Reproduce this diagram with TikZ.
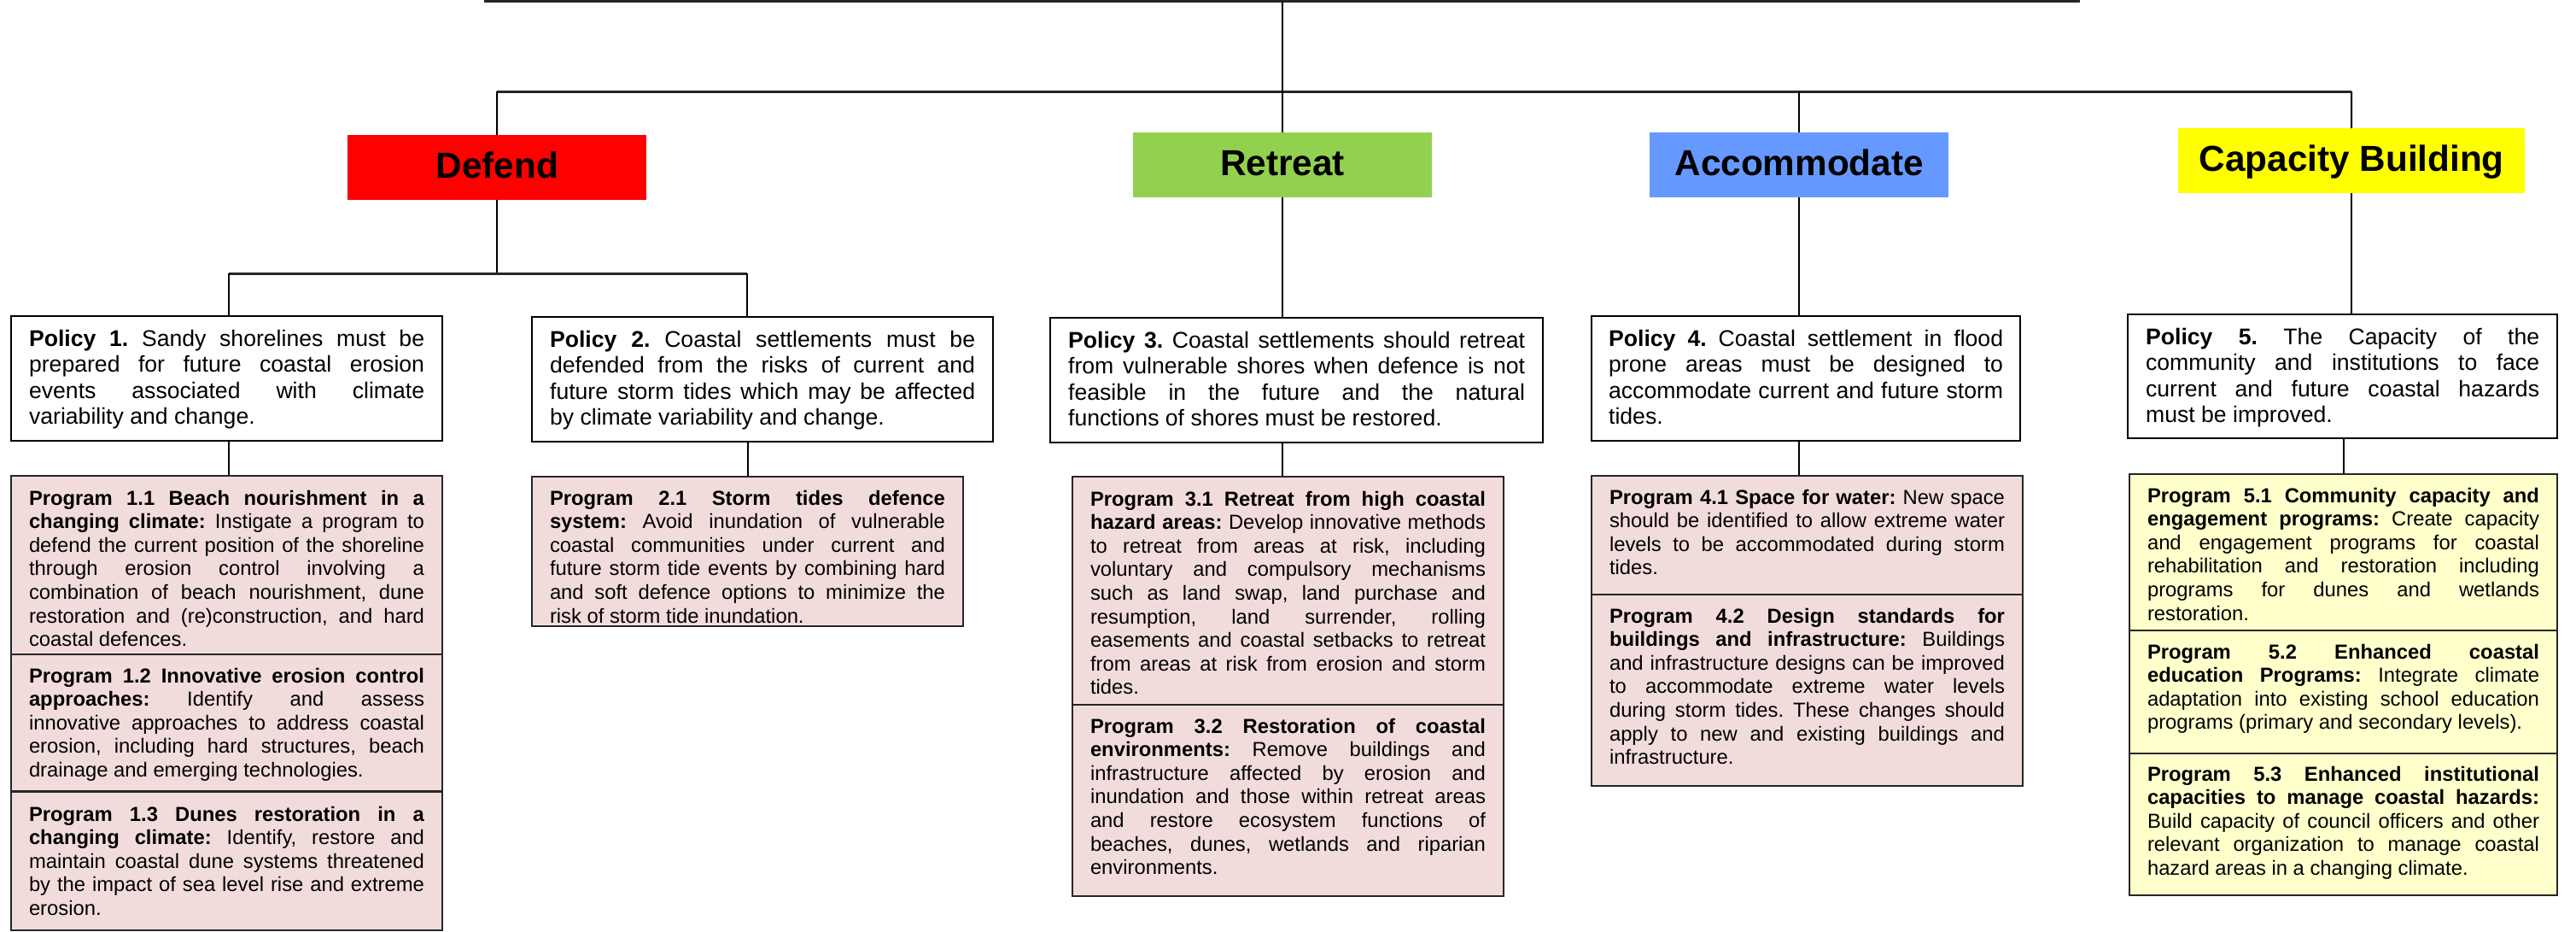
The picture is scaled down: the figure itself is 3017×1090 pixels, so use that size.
\documentclass[tikz,border=0pt]{standalone}
\usepackage{fontspec}
\setmainfont{Liberation Sans}
\definecolor{defred}{HTML}{FF0000}
\definecolor{retgreen}{HTML}{92D050}
\definecolor{accblue}{HTML}{6699FF}
\definecolor{capyellow}{HTML}{FFFF00}
\definecolor{progpink}{HTML}{F2DCDB}
\definecolor{progyellow}{HTML}{FFFFCC}
\newcommand\J[1]{\makebox[\linewidth][s]{#1}\\}
% #1 box width, #2 box height, #3 side padding, #4 first baseline, #5 text
\newcommand\boxtext[5]{\parbox[c][#2pt][t]{#1pt}{\hspace*{#3pt}\parbox[t]{\dimexpr#1pt-#3pt-#3pt\relax}{\frenchspacing\rule{0pt}{#4pt}#5}}}
\tikzset{
  catbox/.style={anchor=north west, inner sep=0pt, minimum height=76pt, text height=30pt, text depth=6pt,
    font=\bfseries\fontsize{42.3pt}{50pt}\selectfont},
  polbox/.style={draw=black, line width=2.2pt, fill=white, anchor=north west, inner sep=0pt,
    font=\fontsize{26.6pt}{30.5pt}\selectfont},
  progbox/.style={draw=black!85, line width=2pt, fill=progpink, anchor=north west, inner sep=0pt,
    font=\fontsize{23.8pt}{27.6pt}\selectfont},
  progybox/.style={progbox, fill=progyellow},
  conn/.style={line width=2pt, draw=black},
  barline/.style={line width=3pt, draw=black!85}
}
\begin{document}
\begin{tikzpicture}[x=1pt, y=-1pt]
\path[use as bounding box] (0,0) rectangle (3017,1090);

% category boxes
\node[catbox, fill=defred, minimum width=350pt] (defend) at (407,158) {Defend};
\node[catbox, fill=retgreen, minimum width=350pt] (retreat) at (1327,155) {Retreat};
\node[catbox, fill=accblue, minimum width=350pt] (accom) at (1932,155) {Accommodate};
\node[catbox, fill=capyellow, minimum width=406pt] (capb) at (2551,150) {Capacity Building};

% policies
\node[polbox] (pol1) at (12,369) {\boxtext{505}{146}{21}{35}{%
\J{\textbf{Policy 1.} Sandy shorelines must be}\J{prepared for future coastal erosion}\J{events associated with climate}variability and change.}};
\node[polbox] (pol2) at (622,370) {\boxtext{540}{146}{21}{35}{%
\J{\textbf{Policy 2.} Coastal settlements must be}\J{defended from the risks of current and}\J{future storm tides which may be affected}by climate variability and change.}};
\node[polbox] (pol3) at (1229,371) {\boxtext{577}{146}{21}{35}{%
\J{\textbf{Policy 3.} Coastal settlements should retreat}\J{from vulnerable shores when defence is not}\J{feasible in the future and the natural}functions of shores must be restored.}};
\node[polbox] (pol4) at (1863,369) {\boxtext{502}{146}{20}{35}{%
\J{\textbf{Policy 4.} Coastal settlement in flood}\J{prone areas must be designed to}\J{accommodate current and future storm}tides.}};
\node[polbox] (pol5) at (2491,367) {\boxtext{503}{145}{21}{35}{%
\J{\textbf{Policy 5.} The Capacity of the}\J{community and institutions to face}\J{current and future coastal hazards}must be improved.}};

% programs column 1
\node[progbox] (prog11) at (12,556) {\boxtext{505}{209}{21}{34}{%
\J{\textbf{Program 1.1 Beach nourishment in a}}\J{\textbf{changing climate:} Instigate a program to}\J{defend the current position of the shoreline}\J{through erosion control involving a}\J{combination of beach nourishment, dune}\J{restoration and (re)construction, and hard}coastal defences.}};
\node[progbox] (prog12) at (12,765) {\boxtext{505}{160}{21}{33}{%
\J{\textbf{Program 1.2 Innovative erosion control}}\J{\textbf{approaches:} Identify and assess}\J{innovative approaches to address coastal}\J{erosion, including hard structures, beach}drainage and emerging technologies.}};
\node[progbox] (prog13) at (12,926) {\boxtext{505}{162}{21}{34}{%
\J{\textbf{Program 1.3 Dunes restoration in a}}\J{\textbf{changing climate:} Identify, restore and}\J{maintain coastal dune systems threatened}\J{by the impact of sea level rise and extreme}erosion.}};

% column 2
\node[progbox] (prog21) at (622,557) {\boxtext{505}{175}{21}{33}{%
\J{\textbf{Program 2.1 Storm tides defence}}\J{\textbf{system:} Avoid inundation of vulnerable}\J{coastal communities under current and}\J{future storm tide events by combining hard}\J{and soft defence options to minimize the}risk of storm tide inundation.}};

% column 3
\node[progbox] (prog31) at (1255,557) {\boxtext{505}{267}{21}{34}{%
\J{\textbf{Program 3.1 Retreat from high coastal}}\J{\textbf{hazard areas:} Develop innovative methods}\J{to retreat from areas at risk, including}\J{voluntary and compulsory mechanisms}\J{such as land swap, land purchase and}\J{resumption, land surrender, rolling}\J{easements and coastal setbacks to retreat}\J{from areas at risk from erosion and storm}tides.}};
\node[progbox] (prog32) at (1255,824) {\boxtext{505}{224}{21}{33}{%
\J{\textbf{Program 3.2 Restoration of coastal}}\J{\textbf{environments:} Remove buildings and}\J{infrastructure affected by erosion and}\J{inundation and those within retreat areas}\J{and restore ecosystem functions of}\J{beaches, dunes, wetlands and riparian}environments.}};

% column 4
\node[progbox] (prog41) at (1863,556) {\boxtext{505}{139}{21}{33}{%
\J{\textbf{Program 4.1 Space for water:} New space}\J{should be identified to allow extreme water}\J{levels to be accommodated during storm}tides.}};
\node[progbox] (prog42) at (1863,695) {\boxtext{505}{224}{21}{33}{%
\J{\textbf{Program 4.2 Design standards for}}\J{\textbf{buildings and infrastructure:} Buildings}\J{and infrastructure designs can be improved}\J{to accommodate extreme water levels}\J{during storm tides. These changes should}\J{apply to new and existing buildings and}infrastructure.}};

% column 5
\node[progybox] (prog51) at (2493,554) {\boxtext{501}{183}{21}{33}{%
\J{\textbf{Program 5.1 Community capacity and}}\J{\textbf{engagement programs:} Create capacity}\J{and engagement programs for coastal}\J{rehabilitation and restoration including}\J{programs for dunes and wetlands}restoration.}};
\node[progybox] (prog52) at (2493,737) {\boxtext{501}{144}{21}{33}{%
\J{\textbf{Program 5.2 Enhanced coastal}}\J{\textbf{education Programs:} Integrate climate}\J{adaptation into existing school education}programs (primary and secondary levels).}};
\node[progybox] (prog53) at (2493,881) {\boxtext{501}{166}{21}{32}{%
\J{\textbf{Program 5.3 Enhanced institutional}}\J{\textbf{capacities to manage coastal hazards:}}\J{Build capacity of council officers and other}\J{relevant organization to manage coastal}hazard areas in a changing climate.}};

% connectors
\coordinate (topL) at (567,1.5);
\coordinate (topR) at (2436,1.5);
\coordinate (root) at (1502,1.5);
\coordinate (b2L) at (582,107);
\coordinate (b2R) at (2754,107);
\coordinate (dL) at (268,320);
\coordinate (dR) at (875,320);
\draw[barline] (topL) -- (topR);
\draw[conn] (root) -- (root |- b2L);
\draw[barline] (b2L) -- (b2R);
\draw[conn] (b2L) -- (defend.north);
\draw[conn] (retreat.north |- b2L) -- (retreat.north);
\draw[conn] (accom.north |- b2L) -- (accom.north);
\draw[conn] (b2R) -- (capb.north);

\draw[conn] (defend.south) -- (defend.south |- dL);
\draw[barline] (dL) -- (dR);
\draw[conn] (dL) -- (dL |- pol1.north);
\draw[conn] (dR) -- (dR |- pol2.north);
\draw[conn] (pol1.south -| dL) -- (prog11.north -| dL);
\draw[conn] (prog21.north |- pol2.south) -- (prog21.north);

\draw[conn] (retreat.south) -- (retreat.south |- pol3.north);
\draw[conn] (pol3.south -| retreat.south) -- (prog31.north -| retreat.south);
\draw[conn] (accom.south) -- (accom.south |- pol4.north);
\draw[conn] (pol4.south -| accom.south) -- (prog41.north -| accom.south);
\draw[conn] (capb.south) -- (capb.south |- pol5.north);
\draw[conn] (prog51.north |- pol5.south) -- (prog51.north);
\end{tikzpicture}
\end{document}
